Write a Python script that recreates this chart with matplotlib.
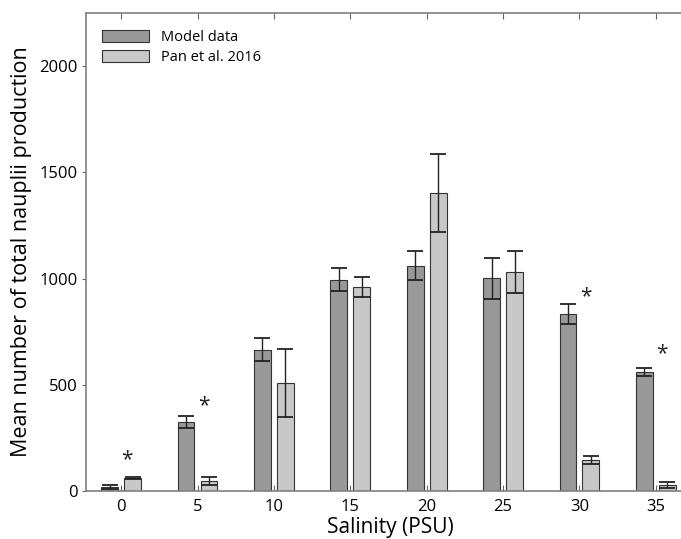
import numpy as np
import matplotlib
matplotlib.use("Agg")
import matplotlib.pyplot as plt

salinity = ["0", "5", "10", "15", "20", "25", "30", "35"]
model_mean = [20, 325, 665, 995, 1060, 1002, 833, 560]
model_err = [10, 29, 55, 55, 68, 97, 47, 20]
pan_mean = [61, 47, 508, 960, 1402, 1031, 146, 28]
pan_err = [5, 18, 162, 45, 183, 97, 21, 14]

# significance stars: (category index, height)
star_idx = [0, 1, 6, 7]
star_y = [146, 400, 913, 645]

plt.rcParams["font.family"] = ["Open Sans", "DejaVu Sans"]

fig = plt.figure(figsize=(6.81, 5.39), dpi=100)
ax = fig.add_axes([86 / 681, 48 / 539, 608 / 681, 478 / 539])

x = np.arange(len(salinity))
w = 0.22
off = 0.15
ax.bar(x - off, model_mean, w, color="#999999", edgecolor="#333333",
       linewidth=0.8, label="Model data", zorder=2)
ax.bar(x + off, pan_mean, w, color="#c8c8c8", edgecolor="#333333",
       linewidth=0.8, label="Pan et al. 2016", zorder=2)
ax.errorbar(x - off, model_mean, yerr=model_err, fmt="none", ecolor="#222222",
            elinewidth=1, capsize=5.5, capthick=1.3, zorder=3)
ax.errorbar(x + off, pan_mean, yerr=pan_err, fmt="none", ecolor="#222222",
            elinewidth=1, capsize=5.5, capthick=1.3, zorder=3)

for i, yv in zip(star_idx, star_y):
    ax.text(x[i] + 0.08, yv, "*", ha="center", va="center", fontsize=15,
            color="#222222")

ax.set_xlim(-0.46, 7.5)
ax.set_ylim(0, 2250)
ax.set_xticks(x)
ax.set_xticklabels(salinity)
ax.set_yticks([0, 500, 1000, 1500, 2000])
ax.tick_params(axis="x", direction="in", length=4, top=True, labelsize=12,
               color="#666666", pad=6)
ax.tick_params(axis="y", direction="out", length=3, labelsize=12,
               color="#666666", pad=3)
for s in ax.spines.values():
    s.set_color("#808080")
    s.set_linewidth(1.2)

ax.set_xlabel("Salinity (PSU)", fontsize=15, labelpad=1)
ax.set_ylabel("Mean number of total nauplii production", fontsize=15.5,
              labelpad=5)

ax.legend(loc="upper left", bbox_to_anchor=(0.01, 0.985), frameon=False,
          fontsize=10.5, handlelength=3.2, handleheight=0.9,
          borderaxespad=0.3, labelspacing=0.3)

fig.savefig("out.png", dpi=100)
